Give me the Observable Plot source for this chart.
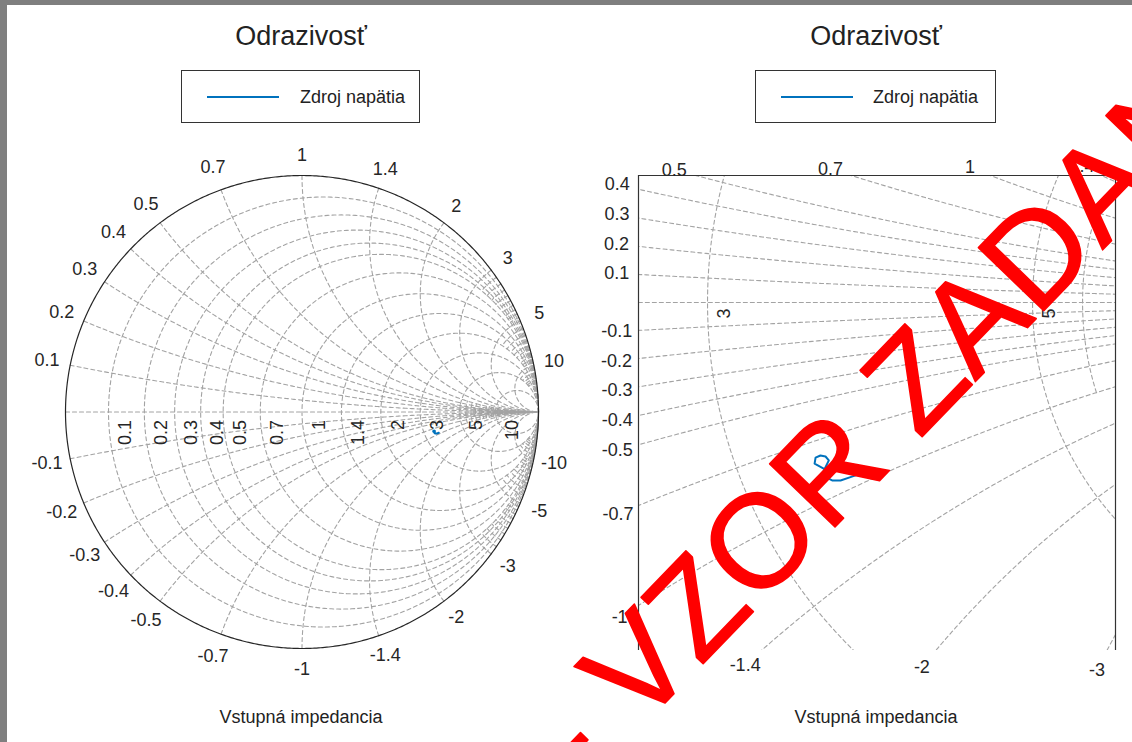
<!DOCTYPE html>
<html><head><meta charset="utf-8">
<script src="https://cdn.jsdelivr.net/npm/d3@7"></script>
<script src="https://cdn.jsdelivr.net/npm/@observablehq/plot@0.6"></script>
<style>
html,body{margin:0;padding:0;}
body{width:1132px;height:742px;background:#7f7f7f;position:relative;overflow:hidden;font-family:"Liberation Sans",Arial,sans-serif;}
#page{position:absolute;left:7px;top:5px;width:1125px;height:737px;background:#fff;}
.abs{position:absolute;top:0;}
svg.ov{position:absolute;left:0;top:0;pointer-events:none;overflow:visible;}
</style></head><body>
<div id="page"></div>
<div id="left" class="abs" style="left:0"></div>
<div id="right" class="abs" style="left:570px"></div>
<svg class="ov" width="1132" height="742" font-family="Liberation Sans, Arial, sans-serif">
  <g fill="#222">
    <text x="301" y="45" font-size="27" text-anchor="middle">Odrazivosť</text>
    <text x="876" y="45" font-size="27" text-anchor="middle">Odrazivosť</text>
    <rect x="181.5" y="70.5" width="238" height="52" fill="#fff" stroke="#333" stroke-width="1"/>
    <line x1="207" x2="279" y1="97" y2="97" stroke="#0072BD" stroke-width="2"/>
    <text x="300" y="103" font-size="18">Zdroj napätia</text>
    <rect x="755.5" y="70.5" width="240" height="52" fill="#fff" stroke="#333" stroke-width="1"/>
    <line x1="781" x2="853" y1="97" y2="97" stroke="#0072BD" stroke-width="2"/>
    <text x="873" y="103" font-size="18">Zdroj napätia</text>
    <text x="301" y="723" font-size="18" text-anchor="middle">Vstupná impedancia</text>
    <text x="876" y="723" font-size="18" text-anchor="middle">Vstupná impedancia</text>
  </g>
</svg>
<svg class="ov" width="1132" height="742" font-family="Liberation Sans, Arial, sans-serif">
  <text x="583" y="788" font-size="132" fill="#ff0000" stroke="#ff0000" stroke-width="1.6" stroke-linejoin="round" transform="rotate(-46 583 788)">- VZOR ZADANIA -</text>
</svg>
<script>
// ---- data ----
const rValues = [0.1, 0.2, 0.3, 0.4, 0.5, 0.7, 1, 1.4, 2, 3, 5, 10];
const xValues = [0.1, 0.2, 0.3, 0.4, 0.5, 0.7, 1, 1.4, 2, 3, 5, 10];
const xMinorValues = [3.2, 3.4, 3.6, 3.8, 4, 4.2, 4.4, 4.6, 4.8, 5.5, 6, 6.5, 7, 7.5, 8, 8.5, 9, 9.5, 11, 12, 13, 14, 15, 16, 18, 20, 25, 30, 40, 50];
const rMinorValues = [5.5, 6, 6.5, 7, 7.5, 8, 8.5, 9, 9.5, 11, 12, 13, 14, 15, 16, 18, 20, 25, 30, 40, 50];
// measured reflection coefficient trace (real, imag)
const gammaRe = [0.5614, 0.5549, 0.5554, 0.5579, 0.5605, 0.5622, 0.5605, 0.5593, 0.5605, 0.5639, 0.5682, 0.5733, 0.5785];
const gammaIm = [-0.0862, -0.0827, -0.0796, -0.0785, -0.0790, -0.0810, -0.0845, -0.0870, -0.0896, -0.0913, -0.0913, -0.0896, -0.0878];
const legendLabel = "Zdroj napätia";

const trace = gammaRe.map((g, i) => ({gx: g, gy: gammaIm[i]}));

// ---- Smith chart geometry ----
function gamma(r, x) { const d = (r + 1) ** 2 + x * x; return [(r * r - 1 + x * x) / d, 2 * x / d]; }
function rCircle(r, n) { const c = r / (1 + r), R = 1 / (1 + r); return d3.range(n + 1).map(i => { const t = 2 * Math.PI * i / n; return [c + R * Math.cos(t), R * Math.sin(t)]; }); }
function xArc(x, n) {
  const a = Math.abs(x), R = 1 / a;
  let p0 = Math.atan2((a * a - 1) / a, -2); if (p0 < 0) p0 += 2 * Math.PI;
  const p1 = 1.5 * Math.PI;
  return d3.range(n + 1).map(i => { const p = p0 + (p1 - p0) * i / n; const gx = 1 + R * Math.cos(p), gy = 1 / a + R * Math.sin(p); return [gx, x < 0 ? -gy : gy]; });
}
function buildGrid(n) {
  const rows = []; let id = 0;
  const push = pts => { pts.forEach(([gx, gy]) => rows.push({gx, gy, id})); id++; };
  push([[-1, 0], [1, 0]]);
  for (const r of rValues) push(rCircle(r, n));
  for (const x of xValues) { push(xArc(x, n)); push(xArc(-x, n)); }
  for (const x of xMinorValues) {
    const lim = x < 5 ? 0.5 : x < 10 ? 2 : 5;
    const pts = d3.range(41).map(i => gamma(lim * i / 40, x));
    push(pts); push(pts.map(([a, b]) => [a, -b]));
  }
  for (const r of rMinorValues) push(d3.range(41).map(i => gamma(r, -1 + 2 * i / 40)));
  return rows;
}
const gridStyle = {x: "gx", y: "gy", z: "id", stroke: "#a3a3a3", strokeWidth: 1.1, strokeDasharray: "4,3"};
const font = {fontFamily: "Liberation Sans, Arial, sans-serif", fontSize: "18px", background: "transparent", overflow: "visible"};
const textColor = "#262626";

// ---- left: full chart ----
const unit = d3.range(721).map(i => { const t = 2 * Math.PI * i / 720; return {gx: Math.cos(t), gy: Math.sin(t)}; });
const rimLabels = xValues.flatMap(x => [x, -x]).map(x => { const [gx, gy] = gamma(0, x); const k = gx < 0 ? 1.1 : 1.087; return {gx: gx * k, gy: gy * k, label: String(x)}; });
const rLabels = rValues.map(r => ({gx: (r - 1) / (r + 1), gy: 0, label: String(r)}));

const left = Plot.plot({
  width: 570, height: 742,
  marginLeft: 65, marginRight: 32, marginTop: 175, marginBottom: 94,
  x: {domain: [-1, 1], axis: null}, y: {domain: [-1, 1], axis: null},
  style: font,
  marks: [
    Plot.line(buildGrid(360), gridStyle),
    Plot.line(unit, {x: "gx", y: "gy", stroke: "#262626", strokeWidth: 1.2}),
    Plot.line(trace, {x: "gx", y: "gy", stroke: "#0072BD", strokeWidth: 2}),
    Plot.text(rimLabels, {x: "gx", y: "gy", text: "label", fill: textColor, textAnchor: "middle"}),
    Plot.text(rLabels, {x: "gx", y: "gy", text: "label", fill: textColor, rotate: -90, textAnchor: "end", dx: 17, dy: 8})
  ]
});
document.getElementById("left").appendChild(left);

// ---- right: zoomed chart ----
const xd = [0.4646, 0.7092], yd = [-0.1785, 0.0651], pxPerUnit = 1950;
function edgeLabel(x) {
  const pts = xArc(x, 6000);
  const inside = ([gx, gy]) => gx >= xd[0] && gx <= xd[1] && gy >= yd[0] && gy <= yd[1];
  const k = pts.findIndex(inside);
  if (k <= 0) return null;
  const e = pts[k];
  for (let j = k - 1; j >= 0; j--) {
    if (Math.hypot((pts[j][0] - e[0]) * pxPerUnit, (pts[j][1] - e[1]) * pxPerUnit) >= 22) return {gx: pts[j][0], gy: pts[j][1], label: String(x)};
  }
  return null;
}
const edgeLabels = xValues.flatMap(x => [x, -x]).map(edgeLabel).filter(d => d);
const rLabelsZoom = rLabels.filter(d => d.gx > xd[0] && d.gx < xd[1]);

const right = Plot.plot({
  width: 562, height: 742,
  marginLeft: 68, marginRight: 17, marginTop: 175, marginBottom: 92,
  x: {domain: xd, axis: null}, y: {domain: yd, axis: null},
  style: font,
  marks: [
    Plot.line(buildGrid(1440), {...gridStyle, clip: true}),
    Plot.line(trace, {x: "gx", y: "gy", stroke: "#0072BD", strokeWidth: 2, clip: true}),
    Plot.ruleX(xd, {y1: yd[0], y2: yd[1], stroke: "#333", strokeWidth: 1.2}),
    Plot.ruleY([yd[1]], {x1: xd[0], x2: xd[1], stroke: "#333", strokeWidth: 1.2}),
    Plot.text(edgeLabels, {x: "gx", y: "gy", text: "label", fill: textColor, textAnchor: "middle"}),
    Plot.text(rLabelsZoom, {x: "gx", y: "gy", text: "label", fill: textColor, rotate: -90, textAnchor: "end", dx: 17, dy: 6})
  ]
});
document.getElementById("right").appendChild(right);
</script>
</body></html>
